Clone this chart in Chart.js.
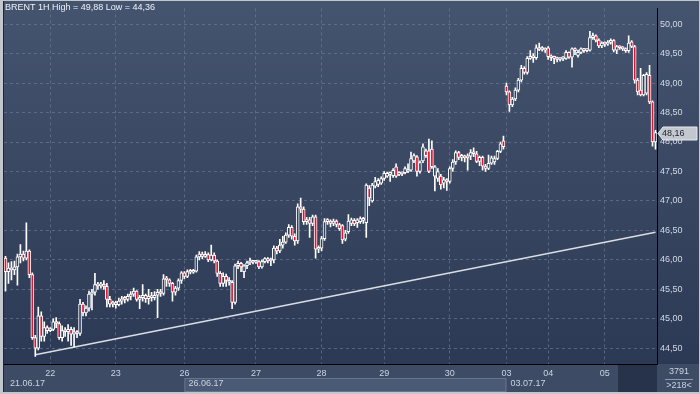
<!DOCTYPE html>
<html>
<head>
<meta charset="utf-8">
<script src="https://cdn.jsdelivr.net/npm/chart.js@4.4.0/dist/chart.umd.min.js"></script>
<style>
  html, body { margin: 0; padding: 0; background: #3b4962; overflow: hidden; }
  canvas { display: block; }
</style>
</head>
<body>
<canvas id="chart" width="700" height="394"></canvas>
<script>
// BRENT 1H candles (one value per hourly bar)
const opens = [
  46.03,45.80,45.86,45.83,45.88,46.05,46.10,46.03,46.15,45.75,
  44.68,44.50,45.05,44.70,44.85,44.80,44.82,44.95,44.92,44.68,
  44.80,44.78,44.82,44.74,44.78,44.75,45.25,45.10,45.18,45.42,
  45.45,45.58,45.56,45.58,45.55,45.33,45.25,45.27,45.24,45.30,
  45.34,45.33,45.38,45.42,45.47,45.33,45.36,45.40,45.34,45.38,
  45.36,45.40,45.45,45.43,45.68,45.66,45.60,45.45,45.52,45.65,
  45.78,45.72,45.80,45.79,45.81,46.05,46.10,46.06,46.09,46.00,
  46.08,45.98,45.77,45.60,45.72,45.65,45.62,45.28,45.90,45.94,
  45.80,45.90,45.95,45.97,45.96,45.97,45.88,45.97,46.02,45.98,
  46.00,46.20,46.15,46.25,46.30,46.42,46.55,46.40,46.32,46.90,
  46.86,46.65,46.68,46.62,46.73,46.18,46.20,46.36,46.65,46.66,
  46.62,46.66,46.60,46.58,46.35,46.48,46.62,46.67,46.63,46.65,
  46.70,46.63,47.22,47.00,47.25,47.28,47.30,47.38,47.42,47.45,
  47.43,47.58,47.45,47.47,47.48,47.50,47.52,47.68,47.75,47.50,
  47.68,47.85,47.85,47.88,47.42,47.38,47.42,47.30,47.36,47.33,
  47.55,47.66,47.82,47.74,47.76,47.73,47.76,47.82,47.80,47.67,
  47.74,47.59,47.55,47.64,47.66,47.72,47.84,48.02,48.95,48.85,
  48.63,48.73,48.88,49.05,49.25,49.18,49.42,49.45,49.43,49.60,
  49.57,49.58,49.60,49.45,49.43,49.42,49.40,49.41,49.42,49.52,
  49.44,49.58,49.47,49.52,49.58,49.55,49.56,49.77,49.80,49.73,
  49.63,49.68,49.66,49.69,49.72,49.56,49.62,49.60,49.58,49.55,
  49.70,49.62,49.05,48.88,48.80,48.83,49.13,48.68,48.00
];
const highs = [
  46.06,45.95,45.97,45.98,46.10,46.26,46.15,46.63,46.17,45.78,
  44.72,45.20,45.12,44.95,44.88,44.85,45.00,45.02,44.95,44.88,
  44.85,44.90,44.86,44.85,44.80,45.33,45.28,45.22,45.47,45.50,
  45.77,45.62,45.62,45.65,45.60,45.38,45.30,45.30,45.35,45.38,
  45.38,45.42,45.46,45.52,45.48,45.40,45.58,45.42,45.50,45.45,
  45.46,45.50,45.50,45.75,45.72,45.68,45.62,45.55,45.68,45.80,
  45.80,45.83,45.84,45.84,46.08,46.14,46.13,46.14,46.12,46.25,
  46.12,46.00,45.80,45.78,45.76,45.70,45.65,45.93,45.98,45.96,
  45.92,45.98,46.03,45.99,45.99,45.99,46.00,46.04,46.04,46.03,
  46.24,46.23,46.35,46.40,46.46,46.60,46.58,46.44,46.95,47.05,
  46.90,46.72,46.72,46.76,46.76,46.24,46.40,46.70,46.70,46.68,
  46.69,46.68,46.62,46.60,46.50,46.77,46.71,46.70,46.70,46.73,
  46.72,47.29,47.26,47.30,47.40,47.38,47.41,47.50,47.49,47.49,
  47.55,47.63,47.50,47.49,47.58,47.63,47.83,47.80,47.77,47.68,
  47.97,47.88,48.05,48.02,47.60,47.55,47.45,47.40,47.38,47.58,
  47.70,47.85,47.84,47.79,47.78,47.80,47.87,47.90,47.84,47.76,
  47.76,47.62,47.78,47.76,47.76,47.86,48.00,48.10,49.00,48.87,
  48.76,48.92,49.08,49.30,49.28,49.45,49.55,49.50,49.65,49.68,
  49.62,49.60,49.62,49.48,49.46,49.44,49.43,49.45,49.55,49.53,
  49.60,49.60,49.56,49.60,49.59,49.58,49.88,49.85,49.82,49.75,
  49.70,49.70,49.72,49.75,49.74,49.64,49.63,49.62,49.60,49.80,
  49.72,49.64,49.08,49.25,49.15,49.18,49.30,48.70,48.20
];
const lows = [
  45.47,45.60,45.66,45.75,45.57,45.95,45.98,46.00,45.70,44.65,
  44.36,44.47,44.62,44.62,44.75,44.78,44.80,44.85,44.65,44.62,
  44.70,44.62,44.55,44.52,44.68,44.72,45.05,45.05,45.13,45.15,
  45.40,45.50,45.52,45.50,45.20,45.20,45.20,45.18,45.22,45.25,
  45.27,45.30,45.32,45.38,45.30,45.17,45.30,45.28,45.25,45.30,
  45.32,45.02,45.38,45.40,45.55,45.55,45.30,45.40,45.48,45.60,
  45.68,45.70,45.76,45.77,45.79,46.00,46.02,46.04,45.97,45.98,
  45.95,45.72,45.55,45.55,45.55,45.57,45.17,45.25,45.85,45.80,
  45.70,45.85,45.92,45.93,45.94,45.85,45.86,45.95,45.95,45.90,
  45.95,46.10,46.12,46.20,46.28,46.38,46.35,46.25,46.28,46.80,
  46.60,46.60,46.38,46.58,46.03,46.12,46.15,46.33,46.60,46.56,
  46.58,46.56,46.50,46.28,46.32,46.45,46.58,46.58,46.55,46.62,
  46.62,46.38,46.92,46.98,47.22,47.24,47.28,47.35,47.40,47.33,
  47.40,47.40,47.43,47.43,47.46,47.48,47.50,47.65,47.42,47.47,
  47.65,47.74,47.48,47.55,47.17,47.33,47.20,47.22,47.18,47.30,
  47.50,47.62,47.70,47.68,47.66,47.52,47.70,47.75,47.65,47.60,
  47.52,47.50,47.53,47.62,47.62,47.70,47.82,47.88,48.80,48.52,
  48.60,48.70,48.85,49.02,49.15,49.15,49.40,49.35,49.40,49.55,
  49.54,49.52,49.40,49.38,49.33,49.36,49.37,49.38,49.40,49.42,
  49.27,49.48,49.44,49.50,49.52,49.53,49.54,49.74,49.70,49.60,
  49.60,49.62,49.64,49.66,49.53,49.50,49.57,49.55,49.52,49.52,
  49.60,49.00,48.80,48.78,48.78,48.80,48.65,47.93,47.88
];
const closes = [
  45.80,45.86,45.83,45.88,46.05,46.10,46.03,46.15,45.75,44.68,
  44.50,45.05,44.70,44.85,44.80,44.82,44.95,44.92,44.68,44.80,
  44.78,44.82,44.74,44.78,44.75,45.25,45.10,45.18,45.42,45.45,
  45.58,45.56,45.58,45.55,45.33,45.25,45.27,45.24,45.30,45.34,
  45.33,45.38,45.42,45.47,45.33,45.36,45.40,45.34,45.38,45.36,
  45.40,45.45,45.43,45.68,45.66,45.60,45.45,45.52,45.65,45.78,
  45.72,45.80,45.79,45.81,46.05,46.10,46.06,46.09,46.00,46.08,
  45.98,45.77,45.60,45.72,45.65,45.62,45.28,45.90,45.94,45.88,
  45.90,45.95,45.97,45.96,45.97,45.88,45.97,46.02,45.98,46.00,
  46.20,46.15,46.25,46.30,46.42,46.55,46.40,46.32,46.90,46.86,
  46.65,46.68,46.62,46.73,46.18,46.20,46.36,46.65,46.66,46.62,
  46.66,46.60,46.53,46.34,46.46,46.66,46.68,46.61,46.68,46.70,
  46.67,47.27,47.05,47.27,47.33,47.35,47.38,47.47,47.47,47.47,
  47.52,47.42,47.47,47.46,47.55,47.53,47.72,47.77,47.50,47.65,
  47.92,47.77,47.50,47.58,47.58,47.50,47.27,47.36,47.33,47.55,
  47.66,47.82,47.74,47.76,47.73,47.76,47.82,47.80,47.67,47.74,
  47.59,47.55,47.64,47.73,47.72,47.84,47.97,47.92,48.85,48.63,
  48.73,48.88,49.05,49.25,49.18,49.42,49.45,49.43,49.60,49.57,
  49.58,49.56,49.45,49.43,49.42,49.40,49.41,49.42,49.52,49.44,
  49.58,49.55,49.52,49.58,49.55,49.56,49.77,49.80,49.73,49.63,
  49.68,49.66,49.69,49.72,49.56,49.62,49.60,49.58,49.55,49.68,
  49.62,49.05,48.85,48.80,49.13,49.15,48.68,48.00,48.16
];

// x axis: first bar of each day and its label
const dayStarts = [15, 37, 60, 84, 106, 127, 149, 168, 182, 201];
const dayLabels = ['22', '23', '26', '27', '28', '29', '30', '03', '04', '05'];
// navigator row: week start bars and labels
const weekStarts = [0, 60, 168];
const weekLabels = ['21.06.17', '26.06.17', '03.07.17'];
// y axis ticks
const priceTicks = [44.5, 45.0, 45.5, 46.0, 46.5, 47.0, 47.5, 48.0, 48.5, 49.0, 49.5, 50.0];
// support line: bar index and price at both ends
const trendBars = [10, 218];
const trendPrices = [44.39, 46.47];
// counters shown in the bottom-right box
const counterTop = '3791';
const counterBottom = '>218<';

const FONT = '"Liberation Sans", Arial, sans-serif';
const fmt = v => v.toFixed(2).replace('.', ',');

const labels = closes.map((_, i) => String(i));
const wicks = lows.map((l, i) => [l, highs[i]]);
const bodies = opens.map((o, i) => [o, closes[i]]);
const bodyFill = opens.map((o, i) => closes[i] < o ? '#e3132f' : '#34425c');
const trend = labels.map(() => null);
trendBars.forEach((b, j) => { trend[b] = trendPrices[j]; });

const gridColor = 'rgba(112,128,155,0.6)';

const backdrop = {
  id: 'backdrop',
  beforeDraw(chart) {
    const ctx = chart.ctx;
    const a = chart.chartArea;
    ctx.save();
    const g = ctx.createLinearGradient(0, a.top, 0, a.bottom);
    g.addColorStop(0, '#45546e');
    g.addColorStop(1, '#2c3954');
    ctx.fillStyle = g;
    ctx.fillRect(0, 0, 700, a.bottom);
    // bottom strip
    ctx.fillStyle = '#3d4b64';
    ctx.fillRect(0, a.bottom, 700, 394 - a.bottom);
    const xs = chart.scales.x;
    const boxL = xs.getPixelForValue(weekStarts[1]);
    const boxR = xs.getPixelForValue(weekStarts[2]);
    ctx.fillStyle = '#4b5a74';
    ctx.fillRect(boxL, 378, boxR - boxL, 14);
    ctx.strokeStyle = '#66758e';
    ctx.lineWidth = 1;
    ctx.strokeRect(boxL + 0.5, 378.5, boxR - boxL - 1, 13);
    ctx.fillStyle = '#27334a';
    ctx.fillRect(618, a.bottom + 1, a.right - 618, 28);
    ctx.restore();
  },
  afterDraw(chart) {
    const ctx = chart.ctx;
    const a = chart.chartArea;
    const xs = chart.scales.x;
    const ys = chart.scales.y;
    ctx.save();
    ctx.font = '9px ' + FONT;
    ctx.textBaseline = 'middle';
    // title
    ctx.fillStyle = '#eef2f7';
    ctx.textAlign = 'left';
    ctx.fillText('BRENT 1H High = ' + fmt(Math.max(...highs)) + ' Low = ' + fmt(Math.min(...lows)), 5, 8);
    // week labels
    ctx.fillStyle = '#c9d3e3';
    weekStarts.forEach((b, i) => {
      const x = i === 0 ? a.left + 6 : xs.getPixelForValue(b) + 4;
      ctx.fillText(weekLabels[i], x, 384);
    });
    // bar count box
    ctx.textAlign = 'center';
    ctx.fillText(counterTop, 679, 372);
    ctx.fillText(counterBottom, 679, 386);
    ctx.strokeStyle = '#8e9ab0';
    ctx.beginPath();
    ctx.moveTo(665, 379.5);
    ctx.lineTo(693, 379.5);
    ctx.stroke();
    // last price tag
    const last = closes[closes.length - 1];
    const py = Math.round(ys.getPixelForValue(last)) + 0.5;
    ctx.fillStyle = '#c3c8cf';
    ctx.strokeStyle = '#e6e8ec';
    ctx.beginPath();
    ctx.moveTo(a.right + 1, py);
    ctx.lineTo(a.right + 6, py - 6.5);
    ctx.lineTo(697, py - 6.5);
    ctx.lineTo(697, py + 6.5);
    ctx.lineTo(a.right + 6, py + 6.5);
    ctx.closePath();
    ctx.fill();
    ctx.stroke();
    ctx.fillStyle = '#1b2230';
    ctx.textAlign = 'left';
    ctx.fillText(fmt(last), 662, py + 0.5);
    // outer frame
    ctx.fillStyle = '#c2c7cd';
    ctx.fillRect(0, 0, 3, 394);
    ctx.fillRect(0, 0, 700, 1);
    ctx.fillRect(0, 392, 700, 2);
    ctx.fillRect(699, 0, 1, 394);
    ctx.fillStyle = '#1e2738';
    ctx.fillRect(3, 1, 1, 391);
    ctx.restore();
  }
};

new Chart(document.getElementById('chart'), {
  type: 'bar',
  data: {
    labels: labels,
    datasets: [
      {
        type: 'line',
        data: trend,
        borderColor: '#dadee4',
        borderWidth: 1.5,
        pointRadius: 0,
        spanGaps: true,
        order: 3
      },
      {
        data: wicks,
        backgroundColor: '#ffffff',
        barThickness: 1,
        grouped: false,
        order: 2
      },
      {
        data: bodies,
        backgroundColor: bodyFill,
        borderColor: '#ffffff',
        borderWidth: 1,
        borderSkipped: false,
        barThickness: 3,
        minBarLength: 2,
        grouped: false,
        order: 1
      }
    ]
  },
  options: {
    responsive: false,
    animation: false,
    layout: { padding: { left: 4, top: 2, right: 0, bottom: 0 } },
    plugins: { legend: { display: false }, tooltip: { enabled: false } },
    scales: {
      x: {
        type: 'category',
        offset: true,
        grid: { color: gridColor, offset: false, drawTicks: false },
        border: { display: true, color: '#000000', width: 1, dash: [3, 3] },
        ticks: {
          color: '#c9d3e3',
          font: { size: 9, family: FONT },
          padding: 4,
          autoSkip: false,
          maxRotation: 0,
          callback: (v, i) => dayLabels[i]
        },
        afterBuildTicks: s => { s.ticks = dayStarts.map(v => ({ value: v })); },
        afterFit: s => { s.height = 30; }
      },
      y: {
        position: 'right',
        min: 44.233,
        max: 50.267,
        grid: { color: gridColor, drawTicks: false },
        border: { display: true, color: '#000000', width: 1, dash: [3, 3] },
        ticks: {
          color: '#d3dae5',
          font: { size: 9, family: FONT },
          padding: 3,
          callback: v => fmt(v)
        },
        afterBuildTicks: s => { s.ticks = priceTicks.map(v => ({ value: v })); },
        afterFit: s => { s.width = 43; }
      }
    }
  },
  plugins: [backdrop]
});
</script>
</body>
</html>
